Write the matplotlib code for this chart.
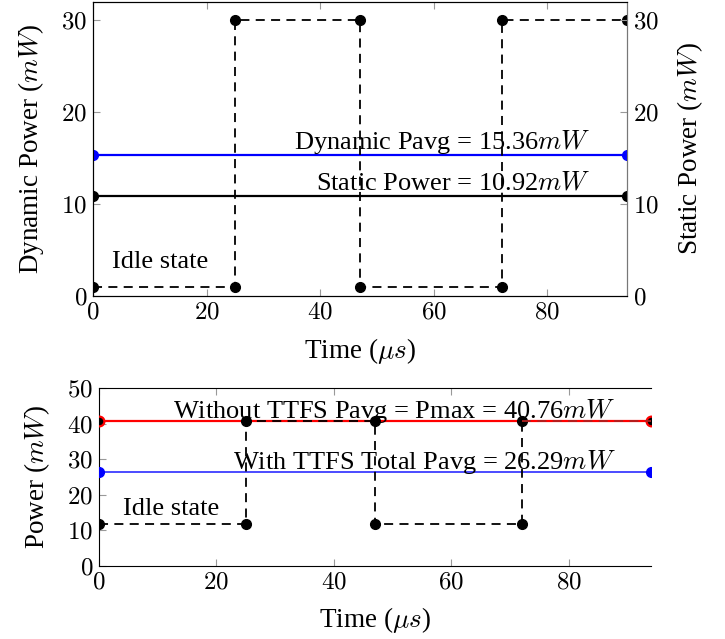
import numpy as np
import matplotlib

matplotlib.use("Agg")
import matplotlib.pyplot as plt
from matplotlib.ticker import FuncFormatter

# ---- data -------------------------------------------------------------------
time_us = [0, 25, 25, 47, 47, 72, 72, 94]
dynamic_mw = [1, 1, 30, 30, 1, 1, 30, 30]
total_mw = [11.92, 11.92, 40.76, 40.76, 11.92, 11.92, 40.76, 40.76]

ends = [0, 94]
dyn_avg = 15.36
static_pw = 10.92
pmax = 40.76
ttfs_avg = 26.29

plt.rcParams.update({
    "font.family": "serif",
    "font.serif": ["Liberation Serif", "DejaVu Serif"],
    "mathtext.fontset": "cm",
    "font.size": 19,
    "axes.labelsize": 19.5,
    "xtick.labelsize": 18,
    "ytick.labelsize": 18,
    "xtick.direction": "in",
    "ytick.direction": "in",
    "xtick.color": "#999999",
    "ytick.color": "#999999",
    "xtick.labelcolor": "black",
    "ytick.labelcolor": "black",
    "xtick.major.size": 5,
    "ytick.major.size": 5,
    "xtick.major.pad": 4,
    "ytick.major.pad": 4,
})

mathfmt = FuncFormatter(lambda v, p: r"$%d$" % v)
DASH = (0, (5, 3.5))

fig = plt.figure(figsize=(7.25, 6.39), dpi=100)

# ---- top panel ----------------------------------------------------------------
ax = fig.add_axes([0.1283, 0.5368, 0.7365, 0.4601])
ax.plot(ends, [dyn_avg] * 2, color="blue", lw=1.6, marker="o", ms=7, zorder=3)
ax.plot(ends, [static_pw] * 2, color="black", lw=1.6, marker="o", ms=7, zorder=3)
ax.plot(time_us, dynamic_mw, color="black", lw=1.3, ls=DASH, marker="o", ms=7,
        zorder=4)
ax.text(87.5, dyn_avg + 0.65, r"Dynamic Pavg = 15.36$mW$", ha="right",
        va="baseline")
ax.text(87.5, static_pw + 0.65, r"Static Power = 10.92$mW$", ha="right",
        va="baseline")
ax.text(3.3, 3.0, "Idle state", ha="left", va="baseline")
ax.set_xlim(0, 94)
ax.set_ylim(0, 32)
ax.set_xticks([0, 20, 40, 60, 80])
ax.set_yticks([0, 10, 20, 30])
ax.xaxis.set_major_formatter(mathfmt)
ax.yaxis.set_major_formatter(mathfmt)
ax.tick_params(top=True)
ax.set_xlabel(r"Time ($\mu s$)", labelpad=9)
ax.set_ylabel(r"Dynamic Power ($mW$)", labelpad=11)
ax.spines["right"].set_color("#777777")

axr = ax.twinx()
axr.set_ylim(0, 32)
axr.set_yticks([0, 10, 20, 30])
axr.yaxis.set_major_formatter(mathfmt)
axr.set_ylabel(r"Static Power ($mW$)", labelpad=12)
axr.spines["right"].set_color("#777777")

# ---- bottom panel -----------------------------------------------------------
bx = fig.add_axes([0.1366, 0.1142, 0.7614, 0.2786])
bx.plot(ends, [pmax] * 2, color="red", lw=1.6, marker="o", ms=7, mfc="black",
        mec="red", mew=1.6, zorder=3)
bx.plot(ends, [ttfs_avg] * 2, color="#3d3dff", lw=1.3, marker="o", ms=7,
        mfc="blue", mec="blue", zorder=3)
bx.plot(time_us[:-1], total_mw[:-1], color="black", lw=1.3, ls=DASH,
        marker="o", ms=7, zorder=4)
bx.plot(time_us[-2:], total_mw[-2:], color="#b02020", lw=1.3, ls=DASH,
        zorder=4)
bx.text(88, pmax + 0.9, r"Without TTFS Pavg = Pmax = 40.76$mW$", ha="right",
        va="baseline")
bx.text(88, ttfs_avg + 1.1, r"With TTFS Total Pavg = 26.29$mW$", ha="right",
        va="baseline")
bx.text(4.1, 14.3, "Idle state", ha="left", va="baseline")
bx.set_xlim(0, 94)
bx.set_ylim(0, 50)
bx.set_xticks([0, 20, 40, 60, 80])
bx.set_yticks([0, 10, 20, 30, 40, 50])
bx.xaxis.set_major_formatter(mathfmt)
bx.yaxis.set_major_formatter(mathfmt)
bx.tick_params(top=True)
bx.spines["right"].set_visible(False)
bx.set_xlabel(r"Time ($\mu s$)", labelpad=8)
bx.set_ylabel(r"Power ($mW$)", labelpad=11)

fig.savefig("out.png", dpi=100)
